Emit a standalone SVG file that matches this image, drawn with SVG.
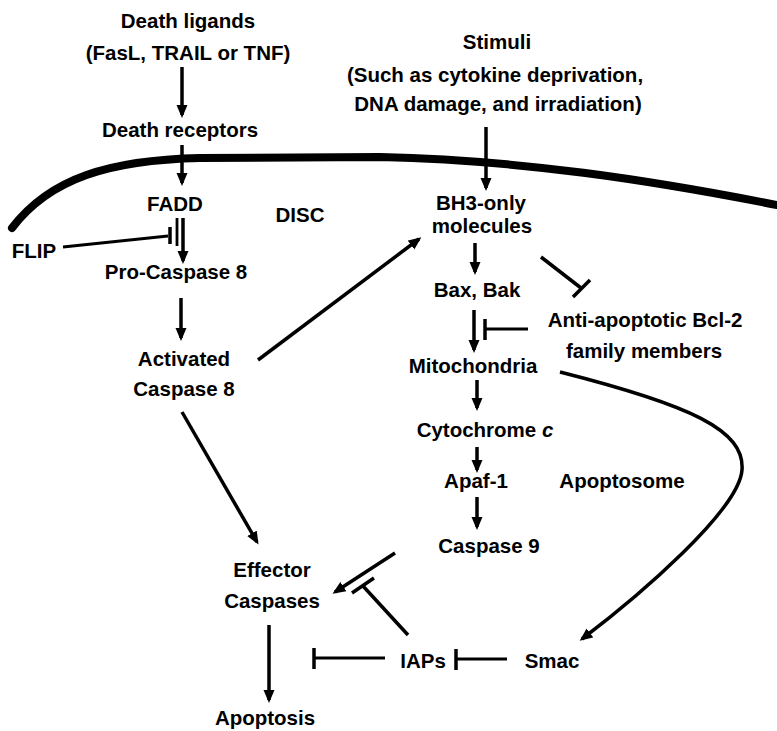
<svg xmlns="http://www.w3.org/2000/svg" width="777" height="731" viewBox="0 0 777 731">
<style>
.t{font-family:"Liberation Sans",Arial,sans-serif;font-weight:bold;font-size:20.5px;text-anchor:middle;fill:#000}
.c{fill:none;stroke:#000;stroke-width:3.5;stroke-linecap:butt}
.thin{stroke-width:2.8}
.a{marker-end:url(#ah)}
.m{fill:none;stroke:#000;stroke-width:8;stroke-linecap:round}
</style>
<defs>
<marker id="ah" markerUnits="userSpaceOnUse" viewBox="0 0 13 12" refX="10" refY="6" markerWidth="13" markerHeight="12" orient="auto">
<path d="M0,0.5 L13,6 L0,11.5 z" fill="#000"/>
</marker>
</defs>
<rect width="777" height="731" fill="#fff"/>
<path class="m" d="M12,228 C50,178 110,160 200,158 L380,157 C520,160 650,180 777,205"/>
<g id="death-ligands"><text class="t" x="188" y="28">Death ligands</text><text class="t" x="188" y="60">(FasL, TRAIL or TNF)</text></g>
<g id="death-receptors"><text class="t" x="180" y="137">Death receptors</text></g>
<g id="fadd"><text class="t" x="175" y="211">FADD</text></g>
<g id="disc"><text class="t" x="300" y="222">DISC</text></g>
<g id="flip"><text class="t" x="34" y="258">FLIP</text></g>
<g id="pro-caspase8"><text class="t" x="176" y="279">Pro-Caspase 8</text></g>
<g id="activated-caspase8"><text class="t" x="184" y="366">Activated</text><text class="t" x="184" y="396">Caspase 8</text></g>
<g id="stimuli"><text class="t" x="497" y="49">Stimuli</text><text class="t" x="495" y="82">(Such as cytokine deprivation,</text><text class="t" x="498" y="111">DNA damage, and irradiation)</text></g>
<g id="bh3"><text class="t" x="481" y="210">BH3-only</text><text class="t" x="482" y="233">molecules</text></g>
<g id="bax-bak"><text class="t" x="477" y="297">Bax, Bak</text></g>
<g id="bcl2"><text class="t" x="645" y="327">Anti-apoptotic Bcl-2</text><text class="t" x="644" y="358">family members</text></g>
<g id="mitochondria"><text class="t" x="473" y="373">Mitochondria</text></g>
<g id="cytochrome"><text class="t" x="485" y="437">Cytochrome <tspan font-style="italic">c</tspan></text></g>
<g id="apaf1"><text class="t" x="476" y="488">Apaf-1</text></g>
<g id="apoptosome"><text class="t" x="622" y="488">Apoptosome</text></g>
<g id="caspase9"><text class="t" x="489" y="553">Caspase 9</text></g>
<g id="effector"><text class="t" x="272" y="577">Effector</text><text class="t" x="272" y="608">Caspases</text></g>
<g id="iaps"><text class="t" x="423" y="668">IAPs</text></g>
<g id="smac"><text class="t" x="552" y="668">Smac</text></g>
<g id="apoptosis"><text class="t" x="265" y="725">Apoptosis</text></g>
<g id="connectors">
<line class="c a" x1="182" y1="67" x2="182" y2="115"/>
<line class="c a" x1="182" y1="145" x2="182" y2="183"/>
<line class="c a" x1="183" y1="218" x2="183" y2="261"/>
<line class="c thin" x1="177" y1="218" x2="177" y2="246"/>
<line class="c thin" x1="63" y1="247" x2="168" y2="236"/>
<line class="c" x1="170" y1="227" x2="170" y2="244"/>
<line class="c a" x1="181" y1="298" x2="181" y2="338"/>
<line class="c a" x1="258" y1="360" x2="419" y2="239"/>
<line class="c a" x1="182" y1="412" x2="257" y2="542"/>
<line class="c a" x1="486" y1="127" x2="486" y2="188"/>
<line class="c a" x1="475" y1="243" x2="475" y2="272"/>
<line class="c" x1="541" y1="257" x2="581" y2="288"/>
<line class="c" x1="590" y1="280" x2="573" y2="297"/>
<line class="c a" x1="474" y1="310" x2="474" y2="350"/>
<line class="c thin" x1="528" y1="329" x2="484" y2="329"/>
<line class="c" x1="485" y1="319" x2="485" y2="340"/>
<path class="c a" d="M560,372 C690,405 745,430 742,470 C739,510 640,595 582,639"/>
<line class="c a" x1="477" y1="380" x2="477" y2="408"/>
<line class="c a" x1="477" y1="447" x2="477" y2="470"/>
<line class="c a" x1="477" y1="497" x2="477" y2="527"/>
<line class="c a" x1="395" y1="553" x2="335" y2="592"/>
<line class="c" x1="408" y1="635" x2="363" y2="586"/>
<line class="c" x1="352" y1="593" x2="374" y2="578"/>
<line class="c a" x1="269" y1="625" x2="269" y2="700"/>
<line class="c thin" x1="385" y1="658" x2="314" y2="658"/>
<line class="c" x1="314" y1="648" x2="314" y2="669"/>
<line class="c thin" x1="507" y1="659" x2="456" y2="659"/>
<line class="c" x1="456" y1="649" x2="456" y2="670"/>
</g>
</svg>
